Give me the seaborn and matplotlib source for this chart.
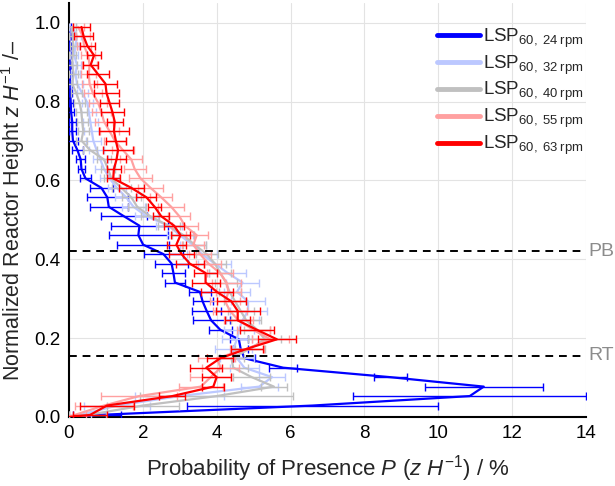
import numpy as np
import pandas as pd
import matplotlib
matplotlib.use("Agg")
import matplotlib.pyplot as plt
import seaborn as sns
from matplotlib.ticker import MultipleLocator, FormatStrFormatter

# Normalized reactor height z/H (first entry is the origin)
heights = [0.0, 0.005, 0.029, 0.053, 0.077, 0.101, 0.125, 0.149, 0.173, 0.197, 0.221,
           0.245, 0.269, 0.293, 0.317, 0.341, 0.365, 0.389, 0.413, 0.437, 0.461,
           0.485, 0.509, 0.533, 0.557, 0.581, 0.605, 0.629, 0.653, 0.677, 0.701,
           0.725, 0.749, 0.773, 0.797, 0.821, 0.845, 0.869, 0.893, 0.917, 0.941,
           0.965, 0.989]

# Probability of presence P (%) per run
p_24 = [0, 0.75, 6.6, 10.85, 11.23, 8.7, 5.8, 4.75, 4.65, 4.6, 4.1, 3.85, 3.73, 3.62,
        3.55, 2.87, 2.83, 2.78, 2.56, 2.01, 1.88, 1.91, 1.49, 1.08, 1.04, 0.88, 0.45,
        0.34, 0.32, 0.23, 0.11, 0.09, 0.09, 0.06, 0.05, 0.04, 0.03, 0.03, 0.02, 0.02,
        0.01, 0.01, 0.01]
p_32 = [0, 0.3, 1.3, 3.0, 5.15, 5.5, 4.75, 4.55, 4.45, 4.55, 4.6, 4.7, 4.85, 4.85,
        4.55, 4.7, 4.3, 3.95, 3.6, 3.35, 3.0, 2.7, 2.1, 1.75, 1.55, 1.3, 1.1, 0.95,
        0.85, 0.75, 0.66, 0.62, 0.58, 0.54, 0.5, 0.36, 0.22, 0.18, 0.22, 0.14, 0.18,
        0.22, 0.09]
p_40 = [0, 0.5, 2.0, 4.0, 5.55, 4.95, 4.45, 4.4, 4.9, 5.3, 5.1, 4.8, 4.65, 4.5, 4.35,
        4.25, 4.1, 3.95, 3.73, 3.4, 3.1, 2.7, 2.2, 1.85, 1.69, 1.42, 1.15, 1.06, 0.95,
        0.57, 0.34, 0.39, 0.36, 0.34, 0.29, 0.2, 0.09, 0.13, 0.09, 0.1, 0.12, 0.1, 0.08]
p_55 = [0, 0.15, 0.95, 1.9, 3.57, 3.84, 4.11, 4.0, 4.82, 5.45, 4.99, 4.59, 4.36, 4.23,
        4.32, 4.27, 4.09, 3.78, 3.55, 3.37, 3.46, 3.14, 2.99, 2.77, 2.5, 2.21, 1.94,
        1.78, 1.69, 1.46, 1.24, 1.1, 0.95, 0.88, 0.79, 0.65, 0.56, 0.54, 0.56, 0.52,
        0.41, 0.38, 0.25]
p_63 = [0, 0.57, 1.03, 2.8, 3.91, 4.0, 3.72, 4.1, 4.82, 5.63, 5.09, 4.57, 4.57, 4.4,
        4.01, 3.7, 3.7, 3.27, 3.05, 2.91, 3.02, 2.85, 2.5, 2.32, 2.1, 1.69, 1.2, 1.22,
        1.29, 1.33, 1.27, 1.22, 1.24, 1.18, 1.1, 1.02, 0.99, 0.79, 0.59, 0.68, 0.5,
        0.4, 0.34]

# Horizontal error (no error bar on the origin)
err_24 = [0.65, 3.4, 3.15, 1.6, 0.45, 0.38, 0.3, 0.2, 0.25, 0.32, 0.5, 0.4, 0.27, 0.3,
          0.27, 0.3, 0.45, 0.54, 0.7, 0.8, 0.77, 0.63, 0.52, 0.56, 0.32, 0.15, 0.1,
          0.12, 0.15, 0.15, 0.1, 0.1, 0.08, 0.05, 0.05, 0.05, 0.05, 0.05, 0.05, 0.05,
          0.05, 0.05]
err_32 = [0.3, 0.9, 1.2, 0.5, 0.35, 0.4, 0.45, 0.5, 0.4, 0.4, 0.45, 0.5, 0.45, 0.35,
          0.45, 0.5, 0.45, 0.4, 0.35, 0.35, 0.35, 0.3, 0.3, 0.3, 0.25, 0.25, 0.25, 0.2,
          0.2, 0.2, 0.2, 0.2, 0.2, 0.15, 0.15, 0.15, 0.12, 0.12, 0.1, 0.1, 0.1, 0.1]
err_40 = [0.5, 0.97, 2.07, 0.35, 0.5, 0.4, 0.35, 0.4, 0.45, 0.35, 0.4, 0.35, 0.3, 0.3,
          0.3, 0.3, 0.3, 0.3, 0.3, 0.3, 0.3, 0.25, 0.25, 0.25, 0.25, 0.2, 0.2, 0.2,
          0.2, 0.15, 0.15, 0.15, 0.15, 0.15, 0.15, 0.12, 0.12, 0.12, 0.1, 0.1, 0.1, 0.1]
err_55 = [0.3, 0.78, 1.04, 0.6, 0.55, 0.5, 0.5, 0.45, 0.5, 0.45, 0.4, 0.45, 0.4, 0.35,
          0.4, 0.35, 0.35, 0.3, 0.3, 0.3, 0.35, 0.3, 0.35, 0.3, 0.35, 0.3, 0.3, 0.3,
          0.3, 0.3, 0.25, 0.25, 0.25, 0.25, 0.25, 0.2, 0.2, 0.2, 0.2, 0.2, 0.2, 0.15]
err_63 = [0.45, 0.72, 0.35, 0.3, 0.4, 0.43, 0.35, 0.43, 0.52, 0.45, 0.34, 0.59, 0.4,
          0.43, 0.38, 0.32, 0.38, 0.34, 0.25, 0.25, 0.27, 0.22, 0.18, 0.27, 0.34, 0.18,
          0.2, 0.25, 0.4, 0.27, 0.4, 0.22, 0.32, 0.25, 0.35, 0.32, 0.29, 0.2, 0.2, 0.2,
          0.25, 0.22]

speeds = ["24", "32", "40", "55", "63"]
colors = ["#0000ff", "#bcc8ff", "#c0c0c0", "#ffa0a0", "#ff0000"]
values = [p_24, p_32, p_40, p_55, p_63]
errors = [err_24, err_32, err_40, err_55, err_63]

sns.set_style("white")
plt.rcParams['font.family'] = ['Liberation Sans', 'DejaVu Sans']
plt.rcParams['mathtext.fontset'] = 'custom'
plt.rcParams['mathtext.rm'] = 'Liberation Sans'
plt.rcParams['mathtext.it'] = 'Liberation Sans:italic'

fig = plt.figure(figsize=(6.15, 4.86), dpi=100)
ax = fig.add_axes([0.112, 0.142, 0.841, 0.852])

for i, (spd, col, vals, err) in enumerate(zip(speeds, colors, values, errors)):
    df = pd.DataFrame({"P": vals, "z": heights})
    ax.errorbar(df["P"][1:], df["z"][1:], xerr=err, fmt="none", ecolor=col,
                elinewidth=1.0, capsize=3, capthick=1.0, zorder=3 + 2 * i)
    sns.lineplot(data=df, x="P", y="z", orient="y", sort=False, estimator=None,
                 color=col, linewidth=1.6, ax=ax, zorder=4 + 2 * i,
                 label=r"LSP$_{\mathregular{60,\;%s\;rpm}}$" % spd)

# zone borders
ax.axhline(0.42, color="black", linestyle=(0, (4, 3)), linewidth=1.4, zorder=20)
ax.axhline(0.155, color="black", linestyle=(0, (4, 3)), linewidth=1.4, zorder=20)
ax.text(14.06, 0.42, "PB", color="#8c8c8c", fontsize=14, ha="left", va="center", clip_on=False)
ax.text(14.06, 0.155, "RT", color="#8c8c8c", fontsize=14, ha="left", va="center", clip_on=False)

ax.set_xlim(0, 14)
ax.set_ylim(0, 1.05)
ax.xaxis.set_major_locator(MultipleLocator(2))
ax.xaxis.set_minor_locator(MultipleLocator(1))
ax.yaxis.set_major_locator(MultipleLocator(0.2))
ax.yaxis.set_minor_locator(MultipleLocator(0.1))
ax.yaxis.set_major_formatter(FormatStrFormatter("%.1f"))
ax.tick_params(which="both", direction="in", colors="black", labelsize=13.5, width=1.3)
ax.tick_params(which="major", length=6, pad=6)
ax.tick_params(which="minor", length=3.5)

ax.grid(True, which="major", color="#e3e3e3", linewidth=0.8)
ax.set_axisbelow(True)
for s in ["top", "right"]:
    ax.spines[s].set_visible(False)
for s in ["left", "bottom"]:
    ax.spines[s].set_color("black")
    ax.spines[s].set_linewidth(1.5)

ax.set_xlabel(r"Probability of Presence $P\ (z\ H^{-1})$ / %", fontsize=16, labelpad=8)
ax.set_ylabel(r"Normalized Reactor Height $z\ H^{-1}$ /–", fontsize=15.5, labelpad=5)

leg = ax.legend(loc="upper right", bbox_to_anchor=(1.02, 0.975), frameon=False,
                fontsize=13.5, handlelength=2.3, handletextpad=0.15, labelspacing=0.2,
                borderaxespad=0.3)
for h in leg.get_lines():
    h.set_linewidth(3.5)

fig.savefig("out.png", dpi=100, facecolor="white")
